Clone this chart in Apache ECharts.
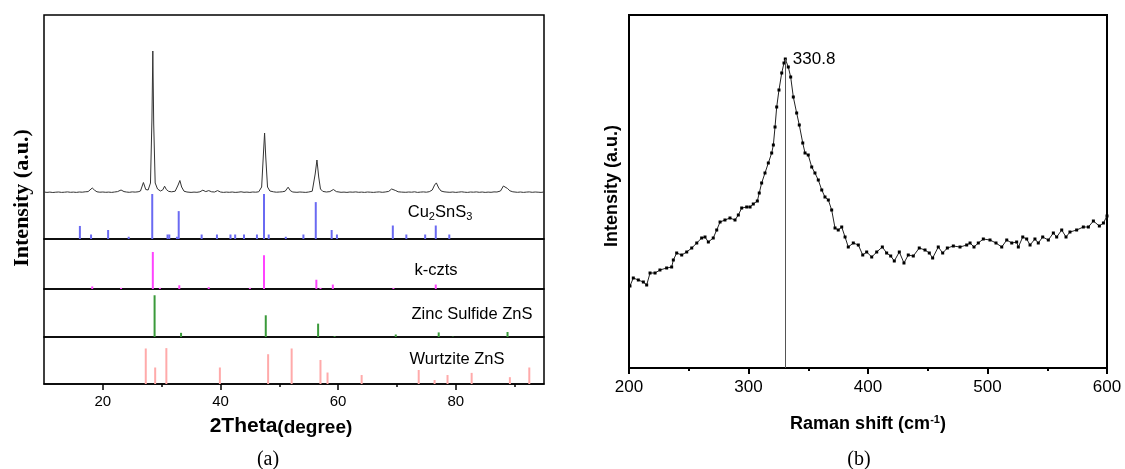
<!DOCTYPE html>
<html><head><meta charset="utf-8">
<script src="https://cdn.jsdelivr.net/npm/echarts@6/dist/echarts.min.js"></script>
<style>html,body{margin:0;padding:0;background:#fff}#c{width:1125px;height:469px}</style>
</head><body><div id="c"></div>
<script>
// ---- (a) XRD pattern: [2theta, counts] ----
const xrdPattern = [
[10,470],[10.5,466],[11,469],[11.5,465],[12,468],[12.5,470],[13,466],[13.5,468],[14,471],[14.5,467],
[15,469],[15.5,466],[16,470],[16.5,468],[17,472],[17.5,474],[17.8,490],[18.2,510],[18.6,488],[19,472],
[19.5,468],[20,470],[20.5,467],[21,469],[21.5,466],[22,470],[22.5,474],[23.1,490],[23.6,474],[24,470],
[24.5,467],[25,471],[25.5,469],[26,472],[26.4,480],[26.9,565],[27.3,495],[27.7,490],[28.1,560],[28.35,1200],
[28.5,1880],[28.65,1150],[28.9,560],[29.3,500],[29.8,480],[30.2,492],[30.5,528],[30.8,495],[31.2,476],[31.7,472],
[32.3,478],[32.8,540],[33.1,585],[33.4,520],[33.8,478],[34.3,470],[35,466],[35.5,469],[36,467],[36.5,472],
[37,488],[37.5,474],[38,484],[38.5,472],[39,470],[39.5,484],[40,470],[40.5,466],[41,469],[41.5,467],
[42,470],[42.5,466],[43,468],[43.5,472],[44,467],[44.5,469],[45,466],[45.5,470],[46,468],[46.5,472],
[47,520],[47.3,850],[47.5,1060],[47.7,820],[48,520],[48.4,480],[49,472],[49.5,468],[50,470],[50.5,472],
[51,478],[51.5,518],[51.9,482],[52.3,470],[53,467],[53.5,470],[54,468],[54.5,466],[55,470],[55.6,478],
[56.1,650],[56.4,790],[56.7,620],[57,500],[57.4,476],[58,470],[58.6,474],[59.2,495],[59.7,474],[60,470],
[60.5,467],[61,469],[61.5,466],[62,470],[62.5,468],[63,471],[63.5,467],[64,469],[64.5,466],[65,470],
[65.5,468],[66,466],[66.5,469],[67,471],[67.5,467],[68,470],[68.6,476],[69.1,500],[69.4,518],[69.8,484],
[70.2,472],[70.8,469],[71.5,467],[72,470],[72.5,468],[73,472],[73.5,466],[74,469],[74.5,471],[75,468],
[75.5,473],[76,490],[76.4,540],[76.7,561],[77.1,510],[77.5,480],[78,472],[78.5,469],[79,467],[79.5,470],
[80,466],[80.5,469],[81,472],[81.5,468],[82,466],[82.5,470],[83,468],[83.5,471],[84,467],[84.5,470],
[85,466],[85.5,469],[86,467],[86.5,471],[87,470],[87.6,480],[88.1,530],[88.4,548],[88.8,505],[89.2,482],
[89.7,472],[90,469],[90.5,467],[91,470],[91.5,466],[92,469],[92.5,471],[93,467],[93.5,470],[94,468],
[94.5,466],[95,470]
];
// reference sticks: [2theta, relative intensity]
const cu2snsPeaks = [[16.1,29],[18.0,10],[20.9,20],[24.4,5],[28.4,100],[31.0,10],[31.3,10],[32.6,5],[32.9,62],
  [36.8,10],[39.4,10],[41.7,10],[42.5,10],[44.0,10],[46.2,10],[47.4,100],[48.2,10],[51.1,5],[54.1,10],
  [56.2,82],[58.9,20],[59.8,10],[69.3,30],[71.6,10],[74.8,10],[76.6,30],[78.9,10]];
const kcztsPeaks = [[18.2,7],[23.1,3],[28.5,100],[29.7,3],[33.0,10],[38.0,5],[45.0,3],[47.4,91],
  [56.3,25],[57.0,3],[59.1,12],[69.4,3],[76.6,12]];
const znsPeaks = [[28.8,100],[33.3,10],[47.7,52],[56.6,32],[59.4,2],[69.8,6],[77.1,11],[79.5,1],[88.8,12]];
const wurtzitePeaks = [[27.3,99],[28.9,46],[30.8,100],[39.9,46],[48.1,83],[52.1,99],[57.0,67],[58.2,32],
  [64.0,25],[73.7,39],[76.4,11],[78.6,25],[82.7,31],[89.2,19],[92.5,46]];
const xrdMajorTicks = [20,40,60,80];
const xrdMinorTicks = [30,50,70,90];

// ---- (b) Raman spectrum ----
const ramanShift = [200.8,203.6,207.8,212.0,214.8,217.6,221.8,225.9,231.5,235.7,
237.1,239.9,244.1,248.3,252.5,256.7,260.8,263.6,266.4,270.5,
273.4,276.2,280.3,284.5,288.7,291.5,294.3,298.5,301.3,304.0,
307.4,309.0,311.0,313.8,316.6,319.4,320.8,322.2,323.6,325.5,
327.8,329.7,330.8,333.3,335.3,337.5,340.3,342.5,345.4,347.3,
350.0,352.9,355.6,358.4,361.3,364.0,366.8,369.6,372.4,375.1,
378.0,380.8,383.5,387.7,391.9,395.6,398.9,403.1,407.3,412.0,
415.6,419.0,422.0,426.2,430.1,433.7,437.9,442.9,447.7,451.3,
454.1,458.8,462.5,466.4,471.4,477.0,482.6,485.4,488.7,492.3,
496.5,502.1,507.1,511.9,516.1,520.3,524.4,525.8,529.5,532.8,
535.6,539.7,542.5,546.2,550.9,555.1,557.9,562.1,565.7,569.0,
574.6,580.2,584.4,588.6,593.6,597.0,600];
const ramanIntensity = [82,90,88,86,83,95,95,98,100,101,
108,115,113,116,120,125,130,131,126,130,
138,146,148,150,148,153,160,161,161,164,
167,175,185,195,205,215,223,241,261,278,
295,305,309,301,291,271,255,243,225,215,
213,201,195,188,178,171,168,158,140,138,
141,131,121,125,123,113,116,111,116,121,
115,112,107,116,105,113,112,120,118,115,
110,121,115,120,122,121,123,125,121,125,
129,128,125,121,128,125,126,121,131,129,
123,129,125,131,128,135,131,138,131,136,
138,141,141,147,142,145,152];
const ramanPeak = [330.8, 309];
const ramanPeakLabel = '330.8';

const chart = echarts.init(document.getElementById('c'));
const frame = {show:true, borderColor:'#000', borderWidth:1.5, backgroundColor:'transparent'};
const hiddenX = (gi) => ({type:'value', gridIndex:gi, min:10, max:95, show:false});
const hiddenY = (gi, max) => ({type:'value', gridIndex:gi, min:0, max:max, show:false});
const sticks = (name, data, xi, yi, color) => ({
  name, type:'bar', xAxisIndex:xi, yAxisIndex:yi, data, barWidth:2,
  itemStyle:{color}, silent:true
});

chart.setOption({
  animation:false,
  backgroundColor:'#fff',
  grid:[
    Object.assign({left:44, width:500, top:15, height:224}, frame),
    Object.assign({left:44, width:500, top:239, height:50}, frame),
    Object.assign({left:44, width:500, top:289, height:48}, frame),
    Object.assign({left:44, width:500, top:337, height:47}, frame),
    {left:629, width:478, top:15, height:353, show:true, borderColor:'#000', borderWidth:2}
  ],
  xAxis:[
    hiddenX(0), hiddenX(1), hiddenX(2),
    {type:'value', gridIndex:3, min:10, max:95, position:'bottom',
      axisLine:{show:true, onZero:false, lineStyle:{color:'#000', width:1.5}},
      axisTick:{show:true, inside:false, length:6, customValues:xrdMajorTicks, lineStyle:{color:'#000', width:1.5}},
      axisLabel:{show:true, customValues:xrdMajorTicks, margin:10, color:'#000', fontSize:15, fontFamily:'Arial'},
      splitLine:{show:false}},
    {type:'value', gridIndex:3, min:10, max:95, position:'bottom',
      axisLine:{show:false},
      axisTick:{show:true, inside:false, length:3, customValues:xrdMinorTicks, lineStyle:{color:'#000', width:1.5}},
      axisLabel:{show:false}, splitLine:{show:false}},
    {type:'value', gridIndex:4, min:200, max:600, interval:100, position:'bottom',
      axisLine:{show:true, onZero:false, lineStyle:{color:'#000', width:2}},
      axisTick:{show:true, inside:false, length:6, lineStyle:{color:'#000', width:2}},
      minorTick:{show:true, splitNumber:2, length:3, lineStyle:{color:'#000', width:2}},
      axisLabel:{color:'#000', fontSize:17, fontFamily:'Arial', margin:11},
      splitLine:{show:false}, minorSplitLine:{show:false}}
  ],
  yAxis:[
    hiddenY(0, 2240), hiddenY(0, 498), hiddenY(1, 135), hiddenY(2, 115), hiddenY(3, 131),
    hiddenY(4, 353)
  ],
  series:[
    {name:'XRD', type:'line', xAxisIndex:0, yAxisIndex:0, data:xrdPattern, showSymbol:false,
      lineStyle:{color:'#333', width:1}, silent:true},
    sticks('Cu2SnS3', cu2snsPeaks, 0, 1, '#6a6af2'),
    sticks('k-czts', kcztsPeaks, 1, 2, '#ff44ff'),
    sticks('Zinc Sulfide ZnS', znsPeaks, 2, 3, '#3a9a3a'),
    sticks('Wurtzite ZnS', wurtzitePeaks, 3, 4, '#ffaaaa'),
    {name:'Raman', type:'line', xAxisIndex:5, yAxisIndex:5,
      data: ramanShift.map((s,i)=>[s, ramanIntensity[i]]),
      showSymbol:true, showAllSymbol:true, symbol:'rect', symbolSize:3,
      itemStyle:{color:'#000'}, lineStyle:{color:'#222', width:1}, silent:true,
      markLine:{silent:true, symbol:['none','none'], label:{show:false},
        lineStyle:{color:'#555', width:1, type:'solid'},
        data:[[{coord:[ramanPeak[0], ramanPeak[1]]},{coord:[ramanPeak[0], 0]}]]},
      markPoint:{silent:true, symbol:'circle', symbolSize:1, itemStyle:{color:'rgba(0,0,0,0)'},
        label:{show:true, position:'right', distance:7, formatter:ramanPeakLabel,
          color:'#000', fontSize:17, fontFamily:'Arial'},
        data:[{coord:ramanPeak}]}
    }
  ],
  graphic:[
    {type:'text', x:440, y:212, style:{text:'{a|Cu}{s|2}{a|SnS}{s|3}', textAlign:'center', textVerticalAlign:'middle',
      rich:{a:{fontSize:16.5, fontFamily:'Arial', fill:'#000'}, s:{fontSize:11, fontFamily:'Arial', fill:'#000', padding:[9,0,0,0]}}}},
    {type:'text', x:436, y:270, style:{text:'k-czts', font:'16.5px Arial', fill:'#000', textAlign:'center', textVerticalAlign:'middle'}},
    {type:'text', x:472, y:314, style:{text:'Zinc Sulfide ZnS', font:'16.5px Arial', fill:'#000', textAlign:'center', textVerticalAlign:'middle'}},
    {type:'text', x:457, y:359, style:{text:'Wurtzite ZnS', font:'16.5px Arial', fill:'#000', textAlign:'center', textVerticalAlign:'middle'}},
    {type:'text', x:281, y:426, style:{text:'{a|2Theta}{b|(degree)}', textAlign:'center', textVerticalAlign:'middle',
      rich:{a:{fontSize:21, fontWeight:'bold', fontFamily:'Arial', fill:'#000'}, b:{fontSize:19, fontWeight:'bold', fontFamily:'Arial', fill:'#000', padding:[3,0,0,0]}}}},
    {type:'text', x:22, y:198, rotation:Math.PI/2, style:{text:'Intensity (a.u.)', font:'bold 22px "Liberation Serif"', fill:'#000', textAlign:'center', textVerticalAlign:'middle'}},
    {type:'text', x:268, y:460, style:{text:'(a)', font:'20px "Liberation Serif"', fill:'#000', textAlign:'center', textVerticalAlign:'middle'}},
    {type:'text', x:612, y:186, rotation:Math.PI/2, style:{text:'Intensity (a.u.)', font:'bold 18px Arial', fill:'#000', textAlign:'center', textVerticalAlign:'middle'}},
    {type:'text', x:868, y:424, style:{text:'{a|Raman shift (cm}{s|-1}{a|)}', textAlign:'center', textVerticalAlign:'middle',
      rich:{a:{fontSize:18, fontWeight:'bold', fontFamily:'Arial', fill:'#000'}, s:{fontSize:11, fontWeight:'bold', fontFamily:'Arial', fill:'#000', padding:[0,0,9,0]}}}},
    {type:'text', x:859, y:460, style:{text:'(b)', font:'20px "Liberation Serif"', fill:'#000', textAlign:'center', textVerticalAlign:'middle'}}
  ]
});
</script></body></html>
